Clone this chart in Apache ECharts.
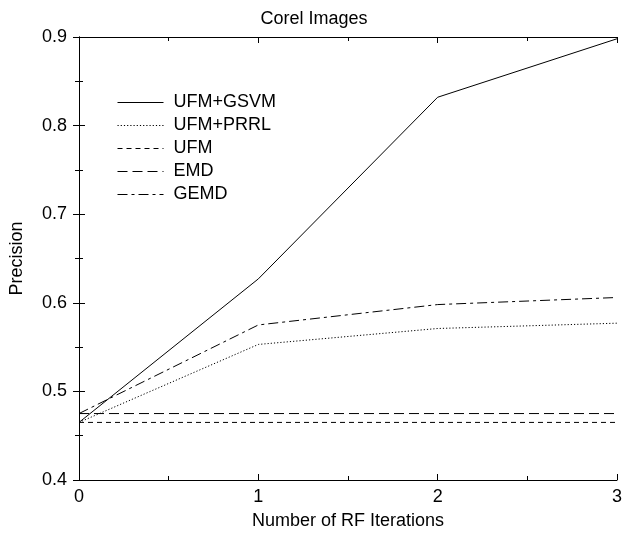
<!DOCTYPE html>
<html><head><meta charset="utf-8">
<script src="https://cdn.jsdelivr.net/npm/echarts@6/dist/echarts.min.js"></script>
<style>html,body{margin:0;padding:0;background:#fff}#c{width:628px;height:535px}</style>
</head><body><div id="c"></div>
<script>
const iterations = [0, 1, 2, 3];
const ufmGsvm = [0.465, 0.627, 0.832, 0.898];
const ufmPrrl = [0.465, 0.553, 0.571, 0.577];
const ufm = [0.465, 0.465, 0.465, 0.465];
const emd = [0.475, 0.475, 0.475, 0.475];
const gemd = [0.475, 0.575, 0.598, 0.606];
const seriesNames = ['UFM+GSVM', 'UFM+PRRL', 'UFM', 'EMD', 'GEMD'];
const seriesData = [ufmGsvm, ufmPrrl, ufm, emd, gemd];
const dashes = ['solid', [1.2, 2], [5, 4], [10, 5], [10, 4, 3, 4]];

const font = 'Liberation Sans, Arial, sans-serif';
const chart = echarts.init(document.getElementById('c'), null, {renderer: 'canvas'});
const tickStyle = {show: true, inside: true, length: 6, lineStyle: {color: '#000', width: 1}};
const minor = {show: true, splitNumber: 2, length: 4, lineStyle: {color: '#000', width: 1}};
chart.setOption({
  animation: false,
  backgroundColor: '#fff',
  title: {text: 'Corel Images', left: 'center', top: 5, textStyle: {fontFamily: font, fontSize: 18, fontWeight: 'normal', color: '#000'}},
  grid: {left: 79, right: 11, top: 37, bottom: 51},
  legend: {
    orient: 'vertical', left: 112, top: 88, itemGap: 4, itemWidth: 46, itemHeight: 14,
    itemStyle: {opacity: 0},
    lineStyle: {width: 1},
    textStyle: {fontFamily: font, fontSize: 18, color: '#000', lineHeight: 19, padding: [0, 0, 0, 5]},
    data: seriesNames
  },
  xAxis: [
    {type: 'value', min: 0, max: 3, interval: 1, name: 'Number of RF Iterations', nameLocation: 'middle', nameGap: 32,
     nameTextStyle: {fontFamily: font, fontSize: 18, color: '#000'},
     axisLine: {show: true, lineStyle: {color: '#000', width: 1}}, axisTick: tickStyle, minorTick: minor,
     axisLabel: {fontFamily: font, fontSize: 18, color: '#000', margin: 8}, splitLine: {show: false}},
    {type: 'value', min: 0, max: 3, interval: 1, position: 'top',
     axisLine: {show: true, lineStyle: {color: '#000', width: 1}}, axisTick: tickStyle, minorTick: minor,
     axisLabel: {show: false}, splitLine: {show: false}}
  ],
  yAxis: [
    {type: 'value', min: 0.4, max: 0.9, interval: 0.1, name: 'Precision', nameLocation: 'middle', nameGap: 53,
     nameTextStyle: {fontFamily: font, fontSize: 18, color: '#000'},
     axisLine: {show: true, lineStyle: {color: '#000', width: 1}}, axisTick: tickStyle, minorTick: minor,
     axisLabel: {fontFamily: font, fontSize: 18, color: '#000', margin: 12, formatter: v => v.toFixed(1)}, splitLine: {show: false}},
    {type: 'value', min: 0.4, max: 0.9, interval: 0.1, position: 'right',
     axisLine: {show: true, lineStyle: {color: '#000', width: 1}}, axisTick: tickStyle, minorTick: minor,
     axisLabel: {show: false}, splitLine: {show: false}}
  ],
  series: seriesNames.map((n, i) => ({
    name: n, type: 'line', symbol: 'none', xAxisIndex: 0, yAxisIndex: 0,
    data: iterations.map((x, j) => [x, seriesData[i][j]]),
    lineStyle: {color: '#000', width: 1, type: dashes[i]},
    itemStyle: {color: '#000'}
  }))
});
</script></body></html>
